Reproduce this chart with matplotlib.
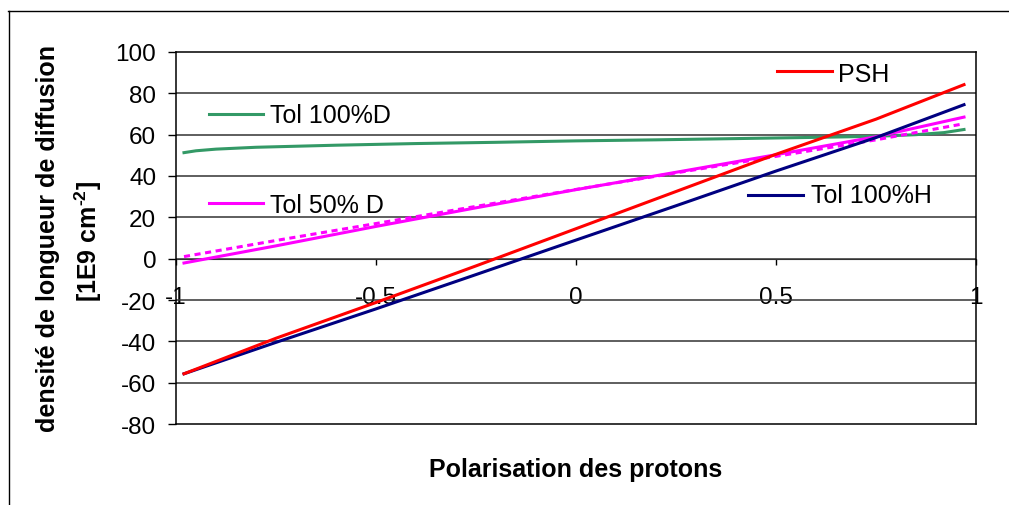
import numpy as np
import matplotlib
matplotlib.use("Agg")
from matplotlib import pyplot as plt
from matplotlib.lines import Line2D

plt.rcParams['font.family'] = ['Liberation Sans', 'DejaVu Sans']
plt.rcParams['axes.unicode_minus'] = False
plt.rcParams['mathtext.fontset'] = 'custom'
plt.rcParams['mathtext.rm'] = 'Liberation Sans'
plt.rcParams['mathtext.bf'] = 'Liberation Sans:bold'

# data
x_lin = [-0.98, -0.75, -0.5, -0.25, 0.0, 0.25, 0.5, 0.75, 0.97]
psh = [-55.7, -38.5, -21.2, -3.5, 14.5, 32.5, 50.5, 67.5, 84.2]
tol_100h = [-55.7, -40.5, -24.3, -7.7, 9.0, 25.6, 42.4, 58.6, 74.5]
tol_50d = [-2.1, 6.2, 15.6, 24.6, 33.4, 41.8, 50.3, 59.0, 68.5]
tol_50d_dash = [1.0, 8.8, 17.0, 25.3, 33.5, 41.5, 49.5, 57.5, 65.3]

x_d = [-0.98, -0.95, -0.9, -0.8, -0.6, -0.4, -0.2, 0.0, 0.2, 0.4, 0.6, 0.75, 0.85, 0.92, 0.97]
tol_100d = [51.3, 52.2, 53.0, 53.9, 54.9, 55.7, 56.3, 57.0, 57.5, 58.1, 58.7, 59.2, 60.0, 61.0, 62.5]

x_ticks = [-1, -0.5, 0, 0.5, 1]
x_ticklabels = ['-1', '-0.5', '0', '0.5', '1']
y_ticks = list(range(-80, 101, 20))

RED = '#FF0000'
NAVY = '#000080'
GREEN = '#339966'
MAGENTA = '#FF00FF'

W, H = 1009, 506
fig = plt.figure(figsize=(W / 100, H / 100), dpi=100)

# outer chart frame (clipped at the right and bottom like the original)
fig.add_artist(Line2D([8 / W, 1.0], [1 - 11.5 / H, 1 - 11.5 / H], color='black', lw=1))
fig.add_artist(Line2D([8.5 / W, 8.5 / W], [0.0, 1 - 11.5 / H], color='black', lw=1))

ax = fig.add_axes([176 / W, 1 - 425 / H, 800 / W, 372 / H])
ax.set_xlim(-1, 1)
ax.set_ylim(-80, 100)

for yt in y_ticks:
    if yt in (-80, 100):
        continue
    ax.axhline(yt, color='#333333', lw=1.1, zorder=1)

ax.plot(x_lin, psh, color=RED, lw=2.2, zorder=5)
ax.plot(x_lin, tol_100h, color=NAVY, lw=2.2, zorder=4)
ax.plot(x_d, tol_100d, color=GREEN, lw=2.2, zorder=3)
ax.plot(x_lin, tol_50d, color=MAGENTA, lw=2.2, zorder=3)
ax.plot(x_lin, tol_50d_dash, color=MAGENTA, lw=2.2, ls=(0, (2, 1.5)), zorder=3)

for sp in ax.spines.values():
    sp.set_color('black')
    sp.set_linewidth(1.1)

ax.set_yticks(y_ticks)
ax.set_yticklabels([str(v) for v in y_ticks])
ax.tick_params(axis='y', direction='out', length=5.8, width=1, pad=8.5, labelsize=17.5)
ax.tick_params(axis='x', bottom=False, labelbottom=False)

# x axis crosses at y = 0
y0 = (0 - ax.get_ylim()[0]) / (ax.get_ylim()[1] - ax.get_ylim()[0])
sec = ax.secondary_xaxis(y0)
sec.set_xticks(x_ticks)
sec.set_xticklabels(x_ticklabels)
sec.spines['bottom'].set_color('#333333')
sec.tick_params(direction='out', length=4.5, width=1, pad=15, labelsize=17.5)

# in-plot series labels with legend keys
labels = [
    ('PSH', RED, 0.751, 0.820, 0.948, 0.8275, 0.922),
    ('Tol 100%D', GREEN, 0.0416, 0.1092, 0.8333, 0.1175, 0.8118),
    ('Tol 50% D', MAGENTA, 0.0409, 0.1091, 0.594, 0.1175, 0.5707),
    ('Tol 100%H', NAVY, 0.715, 0.784, 0.6164, 0.794, 0.5968),
]
for txt, col, x0, x1, yk, xt, yt in labels:
    ax.plot([x0, x1], [yk, yk], color=col, lw=2.2, transform=ax.transAxes, zorder=6)
    ax.text(xt, yt, txt, transform=ax.transAxes, fontsize=18, va='baseline', ha='left', zorder=6)

fig.text(48 / W, 1 - 239 / H, 'densité de longueur de diffusion', rotation=90,
         ha='center', va='center', fontsize=18, fontweight='bold')
fig.text(88 / W, 1 - 241 / H, '[1E9 cm$^{\\mathbf{\u20102}}$]', rotation=90,
         ha='center', va='center', fontsize=18, fontweight='bold')
fig.text(576 / W, 1 - 477 / H, 'Polarisation des protons', ha='center', va='baseline',
         fontsize=18, fontweight='bold')

fig.savefig('out.png', dpi=100)
